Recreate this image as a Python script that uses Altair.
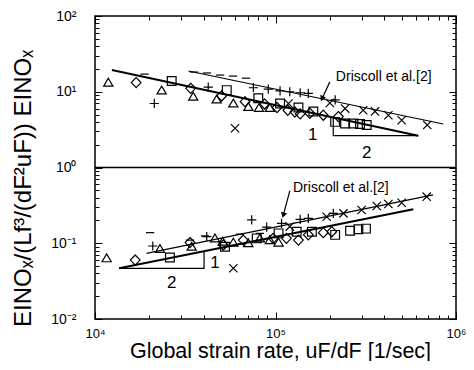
import altair as alt
import pandas as pd

# ---------------- data ----------------
# Upper panel: EINOx
up_tri_x = [1.185e4, 2.34e4, 3.50e4, 4.72e4, 5.84e4, 7.07e4, 8.1e4, 9.3e4]
up_tri_y = [13.2, 10.4, 8.6, 7.9, 7.0, 6.3, 6.1, 6.1]
up_dia_x = [1.69e4, 3.39e4, 5.03e4, 6.78e4, 8.7e4, 1.02e5, 1.17e5, 1.28e5, 1.37e5, 1.55e5, 1.84e5, 2.23e5]
up_dia_y = [13.2, 11.1, 8.8, 7.4, 6.9, 6.2, 5.7, 5.4, 5.1, 5.2, 4.9, 4.7]
up_sq_x = [2.66e4, 5.37e4, 8.03e4, 1.06e5, 1.34e5, 1.62e5, 2.14e5, 2.43e5, 2.70e5, 2.94e5, 3.20e5]
up_sq_y = [13.9, 10.5, 8.2, 7.0, 6.2, 5.5, 4.0, 3.8, 3.8, 3.75, 3.64]
up_plus_x = [2.13e4, 4.24e4, 7.54e4, 9.12e4, 1.06e5, 1.20e5, 1.37e5, 1.52e5, 2.14e5]
up_plus_y = [7.0, 11.5, 11.3, 10.8, 10.3, 10.0, 9.7, 9.5, 7.8]
up_dash_x = [1.88e4, 3.54e4, 4.17e4, 4.93e4, 5.82e4, 6.87e4]
up_dash_y = [17.1, 18.2, 17.7, 16.6, 16.1, 15.1]
up_x_x = [5.97e4, 1.18e5, 2.00e5, 2.43e5, 3.06e5, 3.56e5, 4.22e5, 5.0e5, 6.93e5]
up_x_y = [3.3, 7.0, 7.1, 6.0, 5.7, 5.5, 4.9, 4.2, 3.64]

# Lower panel: EINOx / (Lf^3/(dF^2 uF))
lo_tri_x = [1.16e4, 2.29e4, 3.43e4, 4.62e4, 5.1e4, 5.84e4, 7.07e4, 8.2e4, 9.3e4, 1.04e5]
lo_tri_y = [0.0633, 0.084, 0.090, 0.116, 0.105, 0.102, 0.100, 0.116, 0.110, 0.102]
lo_dia_x = [1.67e4, 3.36e4, 5.14e4, 6.63e4, 9.7e4, 1.15e5, 1.34e5, 1.52e5, 1.84e5, 2.05e5]
lo_dia_y = [0.060, 0.102, 0.095, 0.110, 0.116, 0.116, 0.110, 0.129, 0.138, 0.142]
lo_sq_x = [2.60e4, 5.25e4, 7.87e4, 1.04e5, 1.31e5, 1.59e5, 2.14e5, 2.59e5, 2.88e5, 3.17e5]
lo_sq_y = [0.065, 0.090, 0.116, 0.135, 0.142, 0.142, 0.129, 0.146, 0.153, 0.156]
lo_plus_x = [2.09e4, 4.16e4, 7.38e4, 8.94e4, 1.08e5, 1.37e5, 1.52e5, 2.09e5]
lo_plus_y = [0.092, 0.122, 0.203, 0.163, 0.183, 0.207, 0.213, 0.248]
lo_dash_x = [2.02e4, 3.36e4, 4.07e4, 6.36e4, 8.2e4]
lo_dash_y = [0.138, 0.110, 0.125, 0.132, 0.135]
lo_x_x = [5.84e4, 1.20e5, 1.92e5, 2.38e5, 3.0e5, 3.64e5, 4.22e5, 5.0e5, 6.88e5]
lo_x_y = [0.0467, 0.166, 0.224, 0.248, 0.275, 0.310, 0.330, 0.343, 0.412]

# Fitted lines (slope -1/2 and +1/2) and Driscoll et al. lines
fit_up_x = [1.24e4, 6.18e5]
fit_up_y = [19.4, 2.63]
fit_lo_x = [1.36e4, 5.8e5]
fit_lo_y = [0.0467, 0.281]
dr_up_x = [3.29e4, 8.5e5]
dr_up_y = [18.8, 3.75]
dr_lo_x = [1.93e4, 7.46e5]
dr_lo_y = [0.0737, 0.434]
# slope triangles
st_up_x = [2.09e5, 2.09e5, 6.18e5]
st_up_y = [4.59, 2.63, 2.63]
st_lo_x = [1.36e4, 4.02e4, 4.02e4]
st_lo_y = [0.0467, 0.0467, 0.078]
# annotation arrows
arr_up_x = [2.0e5, 1.81e5]
arr_up_y = [13.5, 8.1]
arr_lo_x = [1.20e5, 1.105e5]
arr_lo_y = [0.49, 0.235]
head_x = [1.81e5, 1.105e5]
head_y = [8.1, 0.235]
head_angle = [25, 16]

# text labels
ann_text = ["Driscoll et al.[2]", "Driscoll et al.[2]"]
ann_x = [2.16e5, 1.25e5]
ann_y = [15.7, 0.536]
slope_text = ["1", "2", "1", "2"]
slope_x = [1.61e5, 3.2e5, 4.62e4, 2.66e4]
slope_y = [2.69, 1.55, 0.0553, 0.0296]

sep_x = [1e4, 1e6]
sep_y = [1, 1]

x_ticks = [10000, 20000, 30000, 40000, 50000, 60000, 70000, 80000, 90000,
           100000, 200000, 300000, 400000, 500000, 600000, 700000, 800000, 900000, 1000000]
x_tick_labels = {10000: "10⁴", 100000: "10⁵", 1000000: "10⁶"}
y_ticks = [0.01, 0.02, 0.03, 0.04, 0.05, 0.06, 0.07, 0.08, 0.09,
           0.1, 0.2, 0.3, 0.4, 0.5, 0.6, 0.7, 0.8, 0.9,
           1, 2, 3, 4, 5, 6, 7, 8, 9,
           10, 20, 30, 40, 50, 60, 70, 80, 90, 100]
y_tick_labels = {100: "10²", 10: "10¹", 1: "10⁰", 0.1: "10⁻¹", 0.01: "10⁻²"}

# ---------------- build tables ----------------
rows = []
for kind, xs, ys in [
    ("tri", up_tri_x, up_tri_y), ("dia", up_dia_x, up_dia_y), ("sq", up_sq_x, up_sq_y),
    ("plus", up_plus_x, up_plus_y), ("dash", up_dash_x, up_dash_y), ("cross", up_x_x, up_x_y),
    ("tri", lo_tri_x, lo_tri_y), ("dia", lo_dia_x, lo_dia_y), ("sq", lo_sq_x, lo_sq_y),
    ("plus", lo_plus_x, lo_plus_y), ("dash", lo_dash_x, lo_dash_y), ("cross", lo_x_x, lo_x_y),
]:
    for a, b in zip(xs, ys):
        rows.append({"x": a, "y": b, "kind": kind})
pts = pd.DataFrame(rows)


def line_df(groups):
    r = []
    for g, xs, ys in groups:
        for i, (a, b) in enumerate(zip(xs, ys)):
            r.append({"x": a, "y": b, "g": g, "o": i})
    return pd.DataFrame(r)


thick = line_df([("fu", fit_up_x, fit_up_y), ("fl", fit_lo_x, fit_lo_y)])
thin = line_df([("du", dr_up_x, dr_up_y), ("dl", dr_lo_x, dr_lo_y),
                ("su", st_up_x, st_up_y), ("sl", st_lo_x, st_lo_y),
                ("au", arr_up_x, arr_up_y), ("al", arr_lo_x, arr_lo_y)])
heads = pd.DataFrame({"x": head_x, "y": head_y, "a": head_angle})
ann = pd.DataFrame({"x": ann_x, "y": ann_y, "t": ann_text})
slp = pd.DataFrame({"x": slope_x, "y": slope_y, "t": slope_text})
sep = pd.DataFrame({"x": sep_x, "y": sep_y})

FONT = "Liberation Sans"
xsc = alt.Scale(type="log", domain=[1e4, 1e6], nice=False)
ysc = alt.Scale(type="log", domain=[0.01, 100], nice=False)


def lab_expr(d):
    parts = []
    for k, v in d.items():
        parts.append(f"datum.value == {k} ? '{v}' : ")
    return "".join(parts) + "''"


x_major = "indexof([10000,100000,1000000], datum.value) >= 0"
y_major = "indexof([0.01,0.1,1,10,100], datum.value) >= 0"

xax = alt.Axis(values=x_ticks, labelExpr=lab_expr(x_tick_labels), grid=False, domain=False,
               tickSize={"condition": {"test": x_major, "value": -7}, "value": -4},
               tickColor="black", tickWidth=1, labelPadding=15, labelFontSize=13,
               labelFont=FONT, labelColor="black", labelFlush=False, labelOverlap=False,
               title="Global strain rate, uF/dF [1/sec]", titleFont=FONT, titleFontSize=21.5,
               titleFontWeight="normal", titleColor="black", titleX=185, titleY=38,
               titleBaseline="alphabetic", titleAnchor="middle")
yax = alt.Axis(values=y_ticks, labelExpr=lab_expr(y_tick_labels), grid=False, domain=False,
               tickSize={"condition": {"test": y_major, "value": -7}, "value": -4},
               tickColor="black", tickWidth=1, labelPadding=26, labelFontSize=14,
               labelFont=FONT, labelColor="black", labelFlush=False, labelOverlap=False,
               title="EINOₓ/(Lf³/(dF²uF))  EINOₓ", titleFont=FONT, titleFontSize=24,
               titleFontWeight="normal", titleColor="black", titleAngle=270,
               titleX=-72, titleY=172, titleAlign="center", titleBaseline="middle")
xax2 = alt.Axis(orient="top", values=x_ticks, labels=False, grid=False, domain=False,
                tickSize={"condition": {"test": x_major, "value": -7}, "value": -4},
                tickColor="black", tickWidth=1, title=None)
yax2 = alt.Axis(orient="right", values=y_ticks, labels=False, grid=False, domain=False,
                tickSize={"condition": {"test": y_major, "value": -7}, "value": -4},
                tickColor="black", tickWidth=1, title=None)

X = alt.X("x:Q", scale=xsc, axis=xax)
Y = alt.Y("y:Q", scale=ysc, axis=yax)

shape_dom = ["tri", "dia", "sq", "plus", "dash", "cross"]
shape_rng = ["M0,-0.95L1,0.75L-1,0.75Z",
             "M0,-1.1L1.05,0L0,1.1L-1.05,0Z",
             "M-0.95,-0.95H0.95V0.95H-0.95Z",
             "M-1,0H1M0,-1V1",
             "M-0.9,0H0.9",
             "M-0.9,-0.9L0.9,0.9M-0.9,0.9L0.9,-0.9"]

points = alt.Chart(pts).mark_point(filled=False, color="black", strokeWidth=1.2, size=85, opacity=1).encode(
    x=X, y=Y,
    shape=alt.Shape("kind:N", scale=alt.Scale(domain=shape_dom, range=shape_rng), legend=None),
)
thick_l = alt.Chart(thick).mark_line(color="black", strokeWidth=2).encode(
    x=X, y=Y, detail="g:N", order="o:Q")
thin_l = alt.Chart(thin).mark_line(color="black", strokeWidth=1.2).encode(
    x=X, y=Y, detail="g:N", order="o:Q")
heads_m = alt.Chart(heads).mark_point(shape="triangle-down", filled=True, color="black",
                                      size=40, opacity=1).encode(
    x=X, y=Y, angle=alt.Angle("a:Q", scale=None))
ann_t = alt.Chart(ann).mark_text(align="left", baseline="middle", font=FONT, fontSize=14,
                                 color="black").encode(x=X, y=Y, text="t:N")
slp_t = alt.Chart(slp).mark_text(align="center", baseline="middle", font=FONT, fontSize=17,
                                 color="black").encode(x=X, y=Y, text="t:N")

main = alt.layer(thick_l, thin_l, points, heads_m, ann_t, slp_t)

frame = alt.Chart(sep).mark_line(color="black", strokeWidth=1.5).encode(
    x=alt.X("x:Q", scale=xsc, axis=xax2),
    y=alt.Y("y:Q", scale=ysc, axis=yax2),
)

chart = alt.layer(main, frame).resolve_scale(x="independent", y="independent").properties(
    width=361, height=303,
    autosize=alt.AutoSizeParams(type="none"),
    padding={"left": 87, "top": 8, "right": 10, "bottom": 42},
    background="white",
).configure_view(stroke="black", strokeWidth=1.5)

chart.save("out.html", embed_options={"renderer": "svg", "actions": False})
